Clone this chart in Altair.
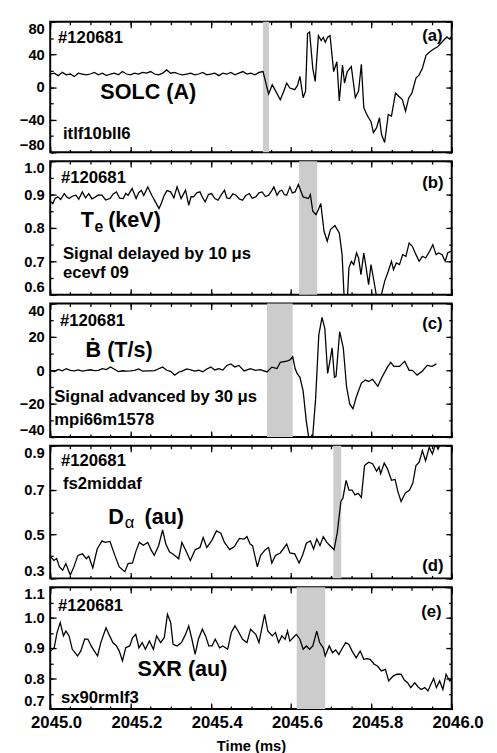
import altair as alt
import pandas as pd

FONT = "Liberation Sans"
T0 = 2045.0

# ---------------- data (time offsets in ms after 2045.0) ----------------
# (a) SOLC (A)
a_t = [0.00, 0.01, 0.02, 0.03, 0.04, 0.05, 0.06, 0.07, 0.08, 0.09,
       0.10, 0.11, 0.12, 0.13, 0.14, 0.15, 0.16, 0.17, 0.18, 0.19,
       0.20, 0.21, 0.22, 0.23, 0.24, 0.25, 0.26, 0.27, 0.28, 0.29,
       0.30, 0.31, 0.32, 0.33, 0.34, 0.35, 0.36, 0.37, 0.38, 0.39,
       0.40, 0.41, 0.42, 0.43, 0.44, 0.45, 0.46, 0.47, 0.48, 0.49,
       0.50, 0.51, 0.52, 0.53,
       0.544, 0.553, 0.560, 0.573, 0.581, 0.589, 0.597, 0.609, 0.616, 0.622,
       0.630, 0.636, 0.641, 0.646, 0.654, 0.660, 0.668, 0.675, 0.680, 0.685,
       0.691, 0.697, 0.706, 0.714, 0.720, 0.728, 0.733, 0.740, 0.750, 0.760,
       0.768, 0.775, 0.781, 0.787, 0.793, 0.799, 0.805, 0.813, 0.820, 0.825,
       0.833, 0.842, 0.850, 0.860, 0.868, 0.877, 0.885, 0.893, 0.901, 0.911,
       0.919, 0.927, 0.936, 0.945, 0.956, 0.964, 0.972, 0.980, 0.988, 0.994,
       1.000]
a_v = [16, 17, 14, 18, 15, 16, 13, 17, 16, 15,
       16, 18, 15, 17, 14, 16, 17, 15, 19, 16,
       15, 17, 16, 18, 17, 19, 16, 15, 17, 21,
       17, 18, 16, 15, 16, 17, 15, 16, 18, 15,
       16, 17, 14, 17, 16, 18, 15, 17, 19, 16,
       17, 15, 18, 19,
       -8.5, 2.8, -3.5, -15.5, -6, 4.8, -1.2, -3.2, 2, 13,
       -13, -5, 65.5, 67.5, 23, 7, 63, 57, 61, 55,
       61, 63, 19, 31, -17, 27, 5, 19, 25, -13,
       -5, 28, -25, -32, -37.6, -42.4, -55.8, -49.7, -37.6, -57.8,
       -67.9, -33.5, -35.6, -7.3, -11.3, -15.4, -29.5, -13.3, -7.3, 10.9,
       15, 23, 39, 43, 47, 49, 53, 57.4, 61.4, 59,
       62]

# (b) Te (keV)
b_t = [0.000, 0.0065, 0.012, 0.019, 0.026, 0.035, 0.041, 0.047, 0.055, 0.064,
       0.071, 0.080, 0.088, 0.096, 0.104, 0.113, 0.120, 0.129, 0.138, 0.149,
       0.157, 0.165, 0.173, 0.182, 0.188, 0.194, 0.204, 0.214, 0.220, 0.227,
       0.233, 0.243, 0.253, 0.262, 0.271, 0.277, 0.284, 0.291, 0.300, 0.308,
       0.316, 0.326, 0.337, 0.345, 0.351, 0.357, 0.365, 0.373, 0.379, 0.386,
       0.394, 0.402, 0.410, 0.418, 0.426, 0.434, 0.440, 0.447, 0.455, 0.463,
       0.471, 0.479, 0.487, 0.496, 0.503, 0.512, 0.520, 0.528, 0.536, 0.544,
       0.551, 0.557, 0.565, 0.571, 0.577, 0.583, 0.589, 0.597, 0.603, 0.610,
       0.618, 0.630, 0.643, 0.648, 0.654, 0.662, 0.668, 0.674, 0.682, 0.690,
       0.698, 0.709, 0.720, 0.727, 0.733, 0.739, 0.744, 0.750, 0.756, 0.763,
       0.768, 0.774, 0.781, 0.787, 0.793, 0.799, 0.805, 0.812, 0.817, 0.825,
       0.833, 0.842, 0.850, 0.855, 0.862, 0.870, 0.878, 0.886, 0.894, 0.902,
       0.911, 0.919, 0.927, 0.935, 0.945, 0.953, 0.961, 0.968, 0.976, 0.984,
       0.990, 0.998]
b_v = [0.880, 0.873, 0.888, 0.893, 0.885, 0.903, 0.893, 0.888, 0.895, 0.898,
       0.886, 0.908, 0.890, 0.903, 0.887, 0.893, 0.899, 0.898, 0.884, 0.888,
       0.902, 0.908, 0.889, 0.888, 0.903, 0.898, 0.918, 0.888, 0.905, 0.913,
       0.897, 0.923, 0.898, 0.878, 0.858, 0.875, 0.898, 0.912, 0.908, 0.890,
       0.923, 0.888, 0.913, 0.868, 0.894, 0.893, 0.905, 0.908, 0.892, 0.878,
       0.900, 0.903, 0.888, 0.883, 0.899, 0.913, 0.890, 0.888, 0.902, 0.898,
       0.887, 0.883, 0.897, 0.903, 0.889, 0.893, 0.905, 0.908, 0.894, 0.898,
       0.910, 0.923, 0.898, 0.910, 0.913, 0.900, 0.898, 0.923, 0.905, 0.908,
       0.930, 0.893, 0.888, 0.900, 0.850, 0.840, 0.855, 0.873, 0.790, 0.760,
       0.795, 0.807, 0.785, 0.720, 0.570, 0.560, 0.680, 0.700, 0.690, 0.725,
       0.710, 0.660, 0.725, 0.680, 0.630, 0.690, 0.650, 0.600, 0.570, 0.600,
       0.640, 0.670, 0.700, 0.675, 0.695, 0.690, 0.720, 0.715, 0.755, 0.745,
       0.720, 0.700, 0.715, 0.710, 0.730, 0.750, 0.720, 0.725, 0.720, 0.700,
       0.725, 0.730]

# (c) B-dot (T/s)
c_t = [0.00, 0.01, 0.02, 0.03, 0.04, 0.05, 0.06, 0.07, 0.08, 0.09,
       0.10, 0.11, 0.12, 0.13, 0.14, 0.15, 0.16, 0.17, 0.18, 0.19,
       0.20, 0.21, 0.22, 0.23, 0.24, 0.25, 0.26, 0.27, 0.28, 0.29,
       0.30, 0.31, 0.32, 0.33, 0.34, 0.35, 0.36, 0.37, 0.38, 0.39,
       0.40, 0.41, 0.42, 0.43, 0.44, 0.45, 0.46, 0.47,
       0.483, 0.499, 0.511, 0.523, 0.540, 0.552, 0.565, 0.573, 0.589, 0.597,
       0.604, 0.610, 0.615, 0.622, 0.630, 0.638, 0.645, 0.653, 0.661, 0.669,
       0.677, 0.684, 0.691, 0.697, 0.702, 0.708, 0.712, 0.721, 0.730, 0.738,
       0.746, 0.754, 0.762, 0.775, 0.785, 0.793, 0.803, 0.816, 0.825, 0.840,
       0.848, 0.856, 0.870, 0.883, 0.894, 0.902, 0.914, 0.927, 0.939, 0.951,
       0.962]
c_v = [0.0, -0.8, 0.5, -0.3, 0.9, 0.0, -0.4, 0.2, -0.5, 0.0,
       0.3, -0.2, 0.0, 1.0, 0.4, 2.0, 0.6, -0.8, -0.3, -0.5,
       -0.4, 0.0, 0.8, -0.5, -0.4, -0.3, -0.2, 0.9, 1.9, 0.0,
       -0.6, -2.9, -1.2, -0.4, 0.8, 0.2, -0.5, 0.0, -0.9, 0.8,
       1.9, 0.2, 1.0, 0.1, 2.9, 3.8, 2.0, 2.9,
       -0.4, 0.96, 0.0, 0.4, -1.0, 1.9, 1.0, 4.8, 5.4, 6.2,
       8.1, 1.0, -1.9, -4.2, -12.5, -30.8, -42.0, -42.0, -17.3, 21.2,
       31.7, 25.0, -1.9, 5.8, 13.5, -4.2, -3.5, 23.1, 13.5, -9.6,
       -20.2, -23.1, -16.3, -7.7, -5.8, -6.7, -5.4, -9.6, -4.8, 1.9,
       4.8, 2.3, 2.3, 5.4, 0.0, 0.0, -2.9, -0.4, 2.9, 2.3,
       3.8]

# (d) D-alpha (au)
d_t = [0.002, 0.009, 0.016, 0.023, 0.031, 0.039, 0.050, 0.059, 0.069, 0.080,
       0.090, 0.096, 0.106, 0.117, 0.129, 0.137, 0.149, 0.161, 0.172, 0.186,
       0.194, 0.205, 0.213, 0.222, 0.232, 0.243, 0.251, 0.259, 0.270, 0.280,
       0.288, 0.297, 0.308, 0.320, 0.328, 0.336, 0.349, 0.361, 0.373, 0.381,
       0.390, 0.402, 0.414, 0.425, 0.434, 0.447, 0.459, 0.471, 0.483, 0.490,
       0.498, 0.504, 0.516, 0.524, 0.536, 0.544, 0.552, 0.561, 0.573, 0.589,
       0.597, 0.609, 0.620, 0.629, 0.638, 0.648, 0.656, 0.664, 0.672, 0.680,
       0.689, 0.697, 0.707, 0.715, 0.724, 0.729, 0.737, 0.744, 0.752, 0.759,
       0.767, 0.775, 0.783, 0.793, 0.803, 0.813, 0.819, 0.823, 0.832, 0.840,
       0.850, 0.859, 0.866, 0.874, 0.884, 0.895, 0.903, 0.911, 0.919, 0.927,
       0.935, 0.944, 0.952, 0.960, 0.966, 0.975, 0.985, 0.995, 1.000]
d_v = [0.396, 0.381, 0.390, 0.352, 0.337, 0.367, 0.315, 0.352, 0.404, 0.411,
       0.389, 0.400, 0.347, 0.433, 0.470, 0.463, 0.467, 0.404, 0.352, 0.330,
       0.367, 0.370, 0.420, 0.463, 0.450, 0.463, 0.430, 0.404, 0.448, 0.519,
       0.455, 0.420, 0.407, 0.389, 0.463, 0.433, 0.381, 0.430, 0.440, 0.485,
       0.440, 0.470, 0.515, 0.504, 0.463, 0.430, 0.444, 0.481, 0.478, 0.489,
       0.455, 0.448, 0.352, 0.404, 0.430, 0.440, 0.370, 0.404, 0.415, 0.455,
       0.415, 0.411, 0.370, 0.407, 0.459, 0.470, 0.433, 0.478, 0.448, 0.489,
       0.463, 0.448, 0.430, 0.507, 0.648, 0.663, 0.744, 0.700, 0.700, 0.678,
       0.685, 0.667, 0.811, 0.826, 0.819, 0.785, 0.804, 0.774, 0.822, 0.796,
       0.744, 0.748, 0.693, 0.648, 0.685, 0.700, 0.730, 0.811, 0.826, 0.878,
       0.833, 0.893, 0.863, 0.910, 0.885, 0.920, 0.910, 0.930, 0.920]

# (e) SXR (au)
e_t = [0.001, 0.010, 0.017, 0.025, 0.033, 0.039, 0.047, 0.055, 0.068, 0.076,
       0.086, 0.094, 0.102, 0.110, 0.118, 0.126, 0.139, 0.148, 0.156, 0.165,
       0.172, 0.180, 0.188, 0.198, 0.205, 0.213, 0.221, 0.229, 0.237, 0.247,
       0.257, 0.265, 0.275, 0.284, 0.292, 0.300, 0.306, 0.316, 0.327, 0.337,
       0.345, 0.353, 0.361, 0.369, 0.379, 0.387, 0.395, 0.403, 0.411, 0.422,
       0.430, 0.442, 0.451, 0.460, 0.468, 0.479, 0.490, 0.499, 0.512, 0.520,
       0.534, 0.542, 0.553, 0.561, 0.569, 0.577, 0.585, 0.591, 0.597, 0.605,
       0.613, 0.622, 0.630, 0.638, 0.646, 0.654, 0.664, 0.671, 0.680, 0.685,
       0.695, 0.703, 0.711, 0.719, 0.726, 0.736, 0.744, 0.752, 0.762, 0.772,
       0.781, 0.789, 0.797, 0.807, 0.815, 0.825, 0.835, 0.843, 0.854, 0.864,
       0.874, 0.882, 0.890, 0.898, 0.908, 0.916, 0.924, 0.933, 0.941, 0.947,
       0.955, 0.962, 0.970, 0.978, 0.986, 0.995, 0.999]
e_v = [0.890, 0.901, 0.951, 0.984, 0.940, 0.956, 0.940, 0.896, 0.874, 0.890,
       0.930, 0.929, 0.907, 0.890, 0.874, 0.918, 0.967, 0.940, 0.918, 0.907,
       0.890, 0.858, 0.901, 0.907, 0.934, 0.945, 0.901, 0.918, 0.896, 0.923,
       0.896, 0.940, 0.918, 0.934, 1.011, 0.984, 0.912, 0.907, 0.918, 0.945,
       0.973, 0.929, 0.879, 0.929, 0.962, 0.940, 0.907, 0.907, 0.929, 0.901,
       0.907, 0.896, 0.951, 0.973, 0.956, 0.929, 0.918, 0.962, 0.945, 0.918,
       1.011, 0.956, 0.940, 0.951, 0.918, 0.940, 0.929, 0.956, 0.923, 0.934,
       0.945, 0.929, 0.896, 0.907, 0.896, 0.907, 0.956, 0.918, 0.901, 0.874,
       0.907, 0.885, 0.894, 0.879, 0.896, 0.918, 0.912, 0.890, 0.868, 0.890,
       0.863, 0.865, 0.863, 0.847, 0.841, 0.825, 0.830, 0.792, 0.808, 0.814,
       0.814, 0.795, 0.786, 0.770, 0.786, 0.773, 0.764, 0.770, 0.759, 0.778,
       0.800, 0.770, 0.792, 0.764, 0.814, 0.792, 0.797]

# shaded intervals (ms after 2045.0)
bands = {"a": (0.530, 0.545), "b": (0.620, 0.665), "c": (0.540, 0.604),
         "d": (0.705, 0.725), "e": (0.614, 0.685)}

x_labels = [2045.0, 2045.2, 2045.4, 2045.6, 2045.8, 2046.0]
x_minor = [round(2045 + i * 0.05, 2) for i in range(21)]

# ---------------- helpers ----------------
XS = alt.Scale(domain=[2045.0, 2046.0], nice=False, zero=False)


def inward(orient, vals, size):
    return alt.Axis(orient=orient, values=vals, offset=-size, tickSize=size,
                    ticks=True, labels=False, domain=False, grid=False,
                    title=None, tickColor="black", tickWidth=1.3)


def txt(s, x, y, size, weight="bold", align="left"):
    return alt.Chart(pd.DataFrame({"k": [0]})).mark_text(
        text=s, font=FONT, fontSize=size, fontWeight=weight, align=align,
        baseline="alphabetic", color="black"
    ).encode(x=alt.value(x), y=alt.value(y))


def panel(t, v, band, ydom, ylab, ymin, fmt, height, texts, bottom=False):
    assert len(t) == len(v)
    df = pd.DataFrame({"time": [T0 + x for x in t], "value": v})
    bdf = pd.DataFrame({"start": [T0 + band[0]], "end": [T0 + band[1]]})
    ys = alt.Scale(domain=ydom, nice=False, zero=False)
    if bottom:
        xlab = alt.Axis(orient="bottom", values=x_labels, format=".1f",
                        ticks=False, domain=False, grid=False, labelFlush=False,
                        labelOverlap=False, labelFont=FONT, labelFontSize=17,
                        labelFontWeight="bold", labelColor="black",
                        labelPadding=6, labelOffset=6, title="Time (ms)",
                        titleFont=FONT, titleFontSize=15, titleFontWeight="bold",
                        titleColor="black", titlePadding=8)
    else:
        xlab = None
    ylabax = alt.Axis(orient="left", values=ylab, format=fmt, ticks=False,
                      domain=False, grid=False, labelFlush=True,
                      labelOverlap=False, labelFont=FONT, labelFontSize=15,
                      labelFontWeight="bold", labelColor="black",
                      labelPadding=6, title=None)
    band_l = alt.Chart(bdf).mark_rect(color="#cccccc").encode(
        x=alt.X("start:Q", scale=XS, axis=xlab), x2="end:Q",
        y=alt.value(0), y2=alt.value(height))
    base = alt.Chart(df)
    line = base.mark_line(color="black", strokeWidth=1.3, clip=True).encode(
        x=alt.X("time:Q", scale=XS, axis=inward("bottom", x_minor, 3)),
        y=alt.Y("value:Q", scale=ys, axis=ylabax))
    ghost = base.mark_line(strokeOpacity=0, clip=True)
    g1 = ghost.encode(
        x=alt.X("time:Q", scale=XS, axis=inward("top", x_minor, 3)),
        y=alt.Y("value:Q", scale=ys, axis=inward("left", ymin, 3)))
    g2 = ghost.encode(
        x=alt.X("time:Q", scale=XS, axis=inward("bottom", x_labels, 6)),
        y=alt.Y("value:Q", scale=ys, axis=inward("right", ymin, 3)))
    g3 = ghost.encode(
        x=alt.X("time:Q", scale=XS, axis=inward("top", x_labels, 6)),
        y=alt.Y("value:Q", scale=ys, axis=inward("left", ylab, 6)))
    g4 = ghost.encode(
        x=alt.X("time:Q", scale=XS, axis=None),
        y=alt.Y("value:Q", scale=ys, axis=inward("right", ylab, 6)))
    layers = [band_l, line, g1, g2, g3, g4] + texts
    return alt.layer(*layers).resolve_axis(x="independent", y="independent").properties(
        width=409, height=height)


pa = panel(a_t, a_v, bands["a"], [-80, 80], [-80, -40, 0, 40, 80],
           [-80, -60, -40, -20, 0, 20, 40, 60, 80], "d", 133,
           [txt("#120681", 8, 22, 17), txt("SOLC (A)", 51, 79, 22),
            txt("itlf10bll6", 13, 119, 17), txt("(a)", 379, 20, 17)])

pb = panel(b_t, b_v, bands["b"], [0.6, 1.0], [0.6, 0.7, 0.8, 0.9, 1.0],
           [0.6, 0.65, 0.7, 0.75, 0.8, 0.85, 0.9, 0.95, 1.0], ".1f", 136,
           [txt("#120681", 11, 22, 17), txt("T", 31, 67, 22),
            txt("e", 45, 72, 16), txt("(keV)", 59, 67, 22),
            txt("Signal delayed by 10 \u03bcs", 13, 100, 17),
            txt("ecevf 09", 13, 119, 17), txt("(b)", 379, 27, 17)])

pc = panel(c_t, c_v, bands["c"], [-40, 40], [-40, -20, 0, 20, 40],
           [-40, -30, -20, -10, 0, 10, 20, 30, 40], "d", 136,
           [txt("#120681", 10, 23, 17), txt("\u1e02 (T/s)", 36, 54, 22),
            txt("Signal advanced by 30 \u03bcs", 4, 100, 17),
            txt("mpi66m1578", 4, 124, 17), txt("(c)", 379, 26, 17)])

pd_ = panel(d_t, d_v, bands["d"], [0.3, 0.9], [0.3, 0.5, 0.7, 0.9],
            [0.3, 0.4, 0.5, 0.6, 0.7, 0.8, 0.9], ".1f", 135,
            [txt("#120681", 11, 21, 17), txt("fs2middaf", 13, 44, 17),
             txt("D", 59, 80, 22), txt("\u03b1", 76, 84, 17, weight="normal"),
             txt("(au)", 96, 80, 22), txt("(d)", 379, 127, 17)])

pe = panel(e_t, e_v, bands["e"], [0.7, 1.1], [0.7, 0.8, 0.9, 1.0, 1.1],
           [0.7, 0.75, 0.8, 0.85, 0.9, 0.95, 1.0, 1.05, 1.1], ".1f", 124,
           [txt("#120681", 8, 24, 17), txt("SXR (au)", 89, 90, 22),
            txt("sx90rmlf3", 11, 118, 17), txt("(e)", 378, 30, 17)],
           bottom=True)

chart = alt.vconcat(pa, pb, pc, pd_, pe, spacing=5).properties(
    padding={"left": 10, "top": 5, "right": 5, "bottom": 0}
).configure_view(stroke="black", strokeWidth=2)

chart.save("out.html", embed_options={"renderer": "svg", "actions": False})
